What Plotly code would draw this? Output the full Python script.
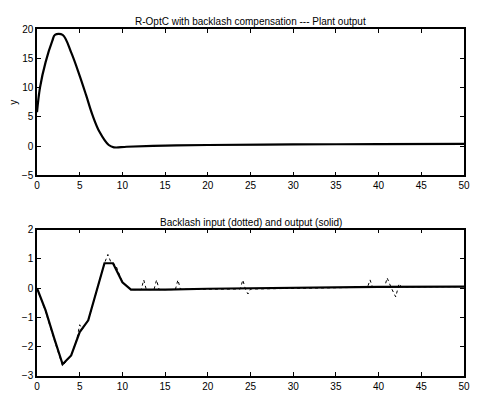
import plotly.graph_objects as go
from plotly.subplots import make_subplots

# Top: plant output
t_top = [0, 0.35, 1.0, 1.8, 2.1, 3.0, 4.0, 5.0, 5.75, 6.5, 7.3, 8.4, 9.0, 10.5, 15, 20, 30, 40, 50]
y_top = [5.8, 10, 14.3, 18, 19, 19, 16, 12, 8.7, 5.3, 2.5, 0.2, -0.2, -0.1, 0.1, 0.2, 0.3, 0.35, 0.4]

# Bottom: backlash output (solid)
t_out = [0, 1, 2, 3, 4, 5, 6, 6.7, 7.9, 8.9, 10, 11, 12, 15, 20, 30, 40, 50]
u_out = [0, -0.75, -1.7, -2.6, -2.3, -1.5, -1.1, -0.4, 0.85, 0.85, 0.2, -0.05, -0.05, -0.05, -0.02, 0.02, 0.04, 0.05]

# Bottom: backlash input (dotted)
t_in = [0, 1, 2, 3, 4, 4.7, 5.0, 5.3, 6, 6.7, 7.9, 8.3, 8.7, 9.2, 10, 11, 12.2, 12.5, 12.8, 13.7, 14, 14.3,
        16.2, 16.5, 16.8, 23.8, 24.1, 24.4, 24.7, 25.0, 38.7, 39, 39.3, 40.7, 41, 41.5, 42, 42.4, 42.7, 50]
u_in = [0, -0.8, -1.75, -2.65, -2.3, -1.7, -1.25, -1.4, -1.1, -0.4, 0.85, 1.15, 0.85, 0.8, 0.2, -0.05, -0.05, 0.28, -0.05, -0.05, 0.28, -0.05,
        -0.05, 0.28, -0.04, -0.03, 0.28, -0.03, -0.2, -0.03, 0.03, 0.28, 0.03, 0.03, 0.35, 0.0, -0.3, 0.15, 0.04, 0.05]

xticks = [0, 5, 10, 15, 20, 25, 30, 35, 40, 45, 50]
yticks_top = [-5, 0, 5, 10, 15, 20]
yticks_bot = [-3, -2, -1, 0, 1, 2]

fig = make_subplots(rows=2, cols=1, vertical_spacing=0.156,
                    subplot_titles=("R-OptC with backlash compensation --- Plant output",
                                    "Backlash input (dotted) and output (solid)"))

fig.add_trace(go.Scatter(x=t_top, y=y_top, mode="lines", line=dict(color="black", width=2.2),
                         line_shape="spline", showlegend=False), row=1, col=1)
fig.add_trace(go.Scatter(x=t_in, y=u_in, mode="lines", line=dict(color="black", width=1, dash="dot"),
                         showlegend=False), row=2, col=1)
fig.add_trace(go.Scatter(x=t_out, y=u_out, mode="lines", line=dict(color="black", width=2.2),
                         showlegend=False), row=2, col=1)

font = dict(family="Liberation Sans, Arial", size=10, color="black")
axcommon = dict(showgrid=False, zeroline=False, showline=True, linecolor="black", linewidth=1.5,
                mirror="ticks", ticks="inside", ticklen=4, tickcolor="black", tickfont=font)

fig.update_xaxes(range=[0, 50], tickvals=xticks, **axcommon)
fig.update_yaxes(range=[-5, 20], tickvals=yticks_top, title=dict(text="y", font=font, standoff=2), row=1, col=1, **axcommon)
fig.update_yaxes(range=[-3, 2], tickvals=yticks_bot, row=2, col=1, **axcommon)

for a in fig.layout.annotations:
    a.font = font

fig.update_layout(width=481, height=403, margin=dict(l=37, r=11, t=29, b=17),
                  paper_bgcolor="white", plot_bgcolor="white", font=font)
fig.write_html("out.html")
